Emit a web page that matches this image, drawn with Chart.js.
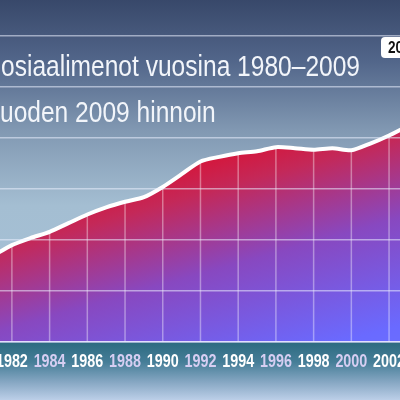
<!DOCTYPE html>
<html>
<head>
<meta charset="utf-8">
<script src="https://cdn.jsdelivr.net/npm/chart.js@4.4.1/dist/chart.umd.min.js"></script>
<style>
  html, body { margin: 0; padding: 0; overflow: hidden; background: #3a4a6a; }
  #wrap { width: 400px; height: 400px; position: relative; }
</style>
</head>
<body>
<div id="wrap"><canvas id="myChart"></canvas></div>
<script>
// sosiaalimenot, mrd euroa vuoden 2009 hinnoin (luettu kuvasta)
var vuodet = [1981, 1982, 1983, 1984, 1985, 1986, 1987, 1988, 1989, 1990, 1991, 1992,
              1993, 1994, 1995, 1996, 1997, 1998, 1999, 2000, 2001, 2002, 2003];
var menot = [16.9, 19.0, 20.4, 21.6, 23.3, 25.0, 26.4, 27.5, 28.4, 30.4, 32.9, 35.4,
             36.3, 37.0, 37.4, 38.2, 38.0, 37.7, 38.0, 37.6, 38.9, 40.5, 42.4];
var otsikko = ['Sosiaalimenot vuosina 1980\u20132009', 'vuoden 2009 hinnoin'];
var merkki = '2009';
var xAlku = 1981.37, xLoppu = 2002.58;
var yAlku = 0, yLoppu = 60, yVali = 10;

var pisteet = vuodet.map(function (v, i) { return { x: v, y: menot[i] }; });

var fontti = '"Liberation Sans", Arial, sans-serif';
var kapeus = 0.82; // kapea kirjasin: vaakasuuntainen puristus

var tausta = {
  id: 'tausta',
  beforeDraw: function (chart) {
    var ctx = chart.ctx, w = chart.width, h = chart.height, b = chart.chartArea.bottom;
    ctx.save();
    var g = ctx.createLinearGradient(0, 0, 0, b);
    g.addColorStop(0, '#38486a');
    g.addColorStop(0.18, '#52668a');
    g.addColorStop(0.38, '#8198b2');
    g.addColorStop(0.6, '#a4bed2');
    g.addColorStop(1, '#a6c2d8');
    ctx.fillStyle = g;
    ctx.fillRect(0, 0, w, b);
    var g2 = ctx.createLinearGradient(0, b, 0, h);
    g2.addColorStop(0, '#2c6a80');
    g2.addColorStop(0.35, '#467e98');
    g2.addColorStop(0.7, '#88a8c4');
    g2.addColorStop(1, '#bccfe8');
    ctx.fillStyle = g2;
    ctx.fillRect(0, b, w, h - b);
    ctx.restore();
  }
};

var pystyViivat = {
  id: 'pystyViivat',
  afterDatasetsDraw: function (chart) {
    var meta = chart.getDatasetMeta(0);
    var pts = meta.data;
    var area = chart.chartArea;
    var xs = chart.scales.x;
    var ctx = chart.ctx;
    ctx.save();
    ctx.beginPath();
    ctx.rect(area.left, area.top, area.right - area.left, area.bottom - area.top);
    ctx.clip();
    ctx.beginPath();
    if (meta.dataset && meta.dataset.path) {
      meta.dataset.path(ctx);
    } else {
      pts.forEach(function (p, i) { i ? ctx.lineTo(p.x, p.y) : ctx.moveTo(p.x, p.y); });
    }
    ctx.lineTo(pts[pts.length - 1].x, area.bottom);
    ctx.lineTo(pts[0].x, area.bottom);
    ctx.closePath();
    ctx.clip();
    ctx.strokeStyle = 'rgba(255,255,255,0.38)';
    ctx.lineWidth = 1.5;
    xs.ticks.forEach(function (t, i) {
      var px = xs.getPixelForTick(i);
      ctx.beginPath();
      ctx.moveTo(px, area.top);
      ctx.lineTo(px, area.bottom);
      ctx.stroke();
    });
    ctx.restore();
  }
};

var tekstit = {
  id: 'tekstit',
  afterDraw: function (chart) {
    var ctx = chart.ctx;
    var xs = chart.scales.x;
    var area = chart.chartArea;
    ctx.save();
    ctx.textBaseline = 'alphabetic';

    // x-akselin vuosiluvut, kapeana
    ctx.font = 'bold 17.5px ' + fontti;
    ctx.textAlign = 'center';
    xs.ticks.forEach(function (t, i) {
      var px = xs.getPixelForTick(i);
      ctx.save();
      ctx.translate(px, area.bottom + 24.5);
      ctx.scale(kapeus, 1);
      ctx.fillStyle = i % 2 ? '#d6cef2' : '#ffffff';
      ctx.fillText(String(t.value), 0, 0);
      ctx.restore();
    });

    // otsikko
    ctx.textAlign = 'left';
    ctx.fillStyle = '#f2f5fa';
    ctx.font = '400 29px ' + fontti;
    var w1 = ctx.measureText(otsikko[0].slice(1)).width;
    var sx = 359 / w1;
    var cut1 = ctx.measureText(otsikko[0].charAt(0)).width;
    var cut2 = ctx.measureText(otsikko[1].charAt(0)).width;
    ctx.save();
    ctx.translate(1, 76);
    ctx.scale(sx, 1);
    ctx.fillText(otsikko[0], -cut1, 0);
    ctx.restore();
    ctx.save();
    ctx.translate(0, 122);
    ctx.scale(sx, 1);
    ctx.fillText(otsikko[1], -cut2, 0);
    ctx.restore();

    // vuosimerkki oikeassa yläkulmassa
    ctx.fillStyle = '#ffffff';
    ctx.beginPath();
    ctx.roundRect(381, 37, 50, 21, 4);
    ctx.fill();
    ctx.fillStyle = '#111111';
    ctx.font = 'bold 16px ' + fontti;
    ctx.save();
    ctx.translate(388, 52.5);
    ctx.scale(0.85, 1);
    ctx.fillText(merkki, 0, 0);
    ctx.restore();
    ctx.restore();
  }
};

var ctx = document.getElementById('myChart');

const myChart = new Chart(ctx, {
  type: 'line',
  data: {
    datasets: [{
      data: pisteet,
      borderColor: '#ffffff',
      borderWidth: 4,
      tension: 0.25,
      pointRadius: 0,
      fill: 'start',
      backgroundColor: function (c) {
        var a = c.chart.chartArea;
        if (!a) return '#c02858';
        var g = c.chart.ctx.createLinearGradient(a.left, a.top + 184, a.left + 60, a.top + 397);
        g.addColorStop(0, '#d3183e');
        g.addColorStop(0.13, '#c42858');
        g.addColorStop(0.48, '#8848c0');
        g.addColorStop(0.95, '#6a6aff');
        g.addColorStop(1, '#6a6cff');
        return g;
      }
    }]
  },
  options: {
    responsive: true,
    maintainAspectRatio: false,
    animation: false,
    layout: { padding: { top: 36, left: 0, right: 0, bottom: 0 } },
    plugins: {
      legend: { display: false },
      tooltip: { enabled: false }
    },
    scales: {
      x: {
        type: 'linear',
        min: xAlku,
        max: xLoppu,
        afterFit: function (s) { s.height = 58; s.paddingLeft = 0; s.paddingRight = 0; },
        grid: { display: false },
        border: { display: true, color: 'rgba(225,215,255,0.9)', width: 1.5, z: 1 },
        ticks: {
          display: false,
          stepSize: 2,
          includeBounds: false,
          autoSkip: false,
          callback: function (v) { return String(v); }
        }
      },
      y: {
        min: yAlku,
        max: yLoppu,
        afterFit: function (s) { s.width = 0; },
        border: { display: false },
        grid: { color: 'rgba(235,240,255,0.55)', lineWidth: 1.5, drawTicks: false, z: 1 },
        ticks: { display: false, stepSize: yVali }
      }
    }
  },
  plugins: [tausta, pystyViivat, tekstit]
});
</script>
</body>
</html>
